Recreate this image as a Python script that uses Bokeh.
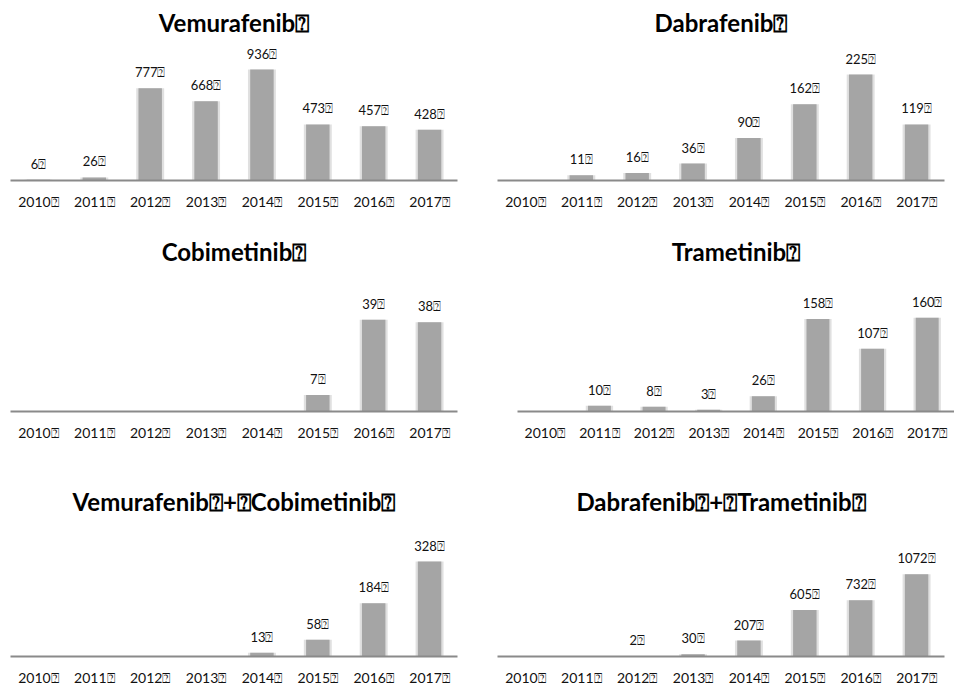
from bokeh.plotting import figure
from bokeh.models import FactorRange, Range1d, ColumnDataSource
from bokeh.layouts import column, row
from bokeh.embed import file_html
from bokeh.resources import INLINE
from bokeh.core.properties import value

BOX = "\u2370"
years = ["2010", "2011", "2012", "2013", "2014", "2015", "2016", "2017"]

titles = ["Vemurafenib", "Dabrafenib", "Cobimetinib", "Trametinib",
          "Vemurafenib" + BOX + "+" + BOX + "Cobimetinib", "Dabrafenib" + BOX + "+" + BOX + "Trametinib"]
vemurafenib = [6, 26, 777, 668, 936, 473, 457, 428]
dabrafenib = [None, 11, 16, 36, 90, 162, 225, 119]
cobimetinib = [None, None, None, None, None, 7, 39, 38]
trametinib = [None, 10, 8, 3, 26, 158, 107, 160]
vem_cob = [None, None, None, None, 13, 58, 184, 328]
dab_tra = [None, None, 2, 30, 207, 605, 732, 1072]

series = [vemurafenib, dabrafenib, cobimetinib, trametinib, vem_cob, dab_tra]

# layout / style parameters: (fig height, frame top, axis y in fig)
W = 477
rows_cfg = [
    dict(h=220, top=38, axis=180),
    dict(h=228, top=47, axis=191),
    dict(h=240, top=69, axis=211),
]
tallest_px = [111, 106, 91.7, 93.7, 97, 84]
borders = [(10, 20), (20, 10), (10, 20), (40, 0), (10, 20), (20, 10)]

FONT = "Lato"
BAR = "#a5a5a5"


def make_panel(i):
    cfg = rows_cfg[i // 2]
    vals = series[i]
    frame_h = cfg["axis"] - cfg["top"]
    vmax = max(v for v in vals if v is not None)
    y_end = vmax * frame_h / tallest_px[i]
    factors = [y + BOX for y in years]
    xs = [f for f, v in zip(factors, vals) if v is not None]
    ys = [v for v in vals if v is not None]
    labels = [str(v) + BOX for v in ys]
    src = ColumnDataSource(dict(x=xs, top=ys, label=labels))
    bl, br = borders[i]
    p = figure(width=W, height=cfg["h"], x_range=FactorRange(*factors),
               y_range=Range1d(0, y_end), output_backend="svg",
               toolbar_location=None, y_axis_location=None,
               min_border_left=bl, min_border_right=br,
               min_border_top=cfg["top"], min_border_bottom=cfg["h"] - cfg["axis"])
    p.title.text = titles[i] + BOX
    p.title.align = "center"
    p.title.text_font = FONT
    p.title.text_font_style = "bold"
    p.title.text_font_size = "24px"
    p.title.text_color = "#000000"
    p.title.standoff = 3
    p.outline_line_color = None
    p.xgrid.visible = False
    p.ygrid.visible = False
    p.background_fill_color = "white"
    p.border_fill_color = "white"
    p.vbar(x="x", top="top", width=0.5, source=src, fill_color=BAR,
           fill_alpha=0.35, line_color=None)
    p.vbar(x="x", top="top", width=0.42, source=src, fill_color=BAR,
           line_color=None)
    p.text(x="x", y="top", text="label", source=src, text_align="center",
           text_baseline="middle", y_offset=-16, text_font=value(FONT),
           text_font_size="13px", text_color="#111111")
    ax = p.xaxis[0]
    ax.axis_line_color = "#8a8a8a"
    ax.axis_line_width = 2
    ax.major_tick_line_color = None
    ax.minor_tick_line_color = None
    ax.major_tick_out = 0
    ax.major_tick_in = 0
    ax.major_label_standoff = 12
    ax.major_label_text_font = FONT
    ax.major_label_text_font_size = "14px"
    ax.major_label_text_color = "#111111"
    return p


panels = [make_panel(i) for i in range(6)]
layout = column(row(panels[0], panels[1]), row(panels[2], panels[3]),
                row(panels[4], panels[5]))

open("out.html", "w").write(file_html(layout, INLINE))
